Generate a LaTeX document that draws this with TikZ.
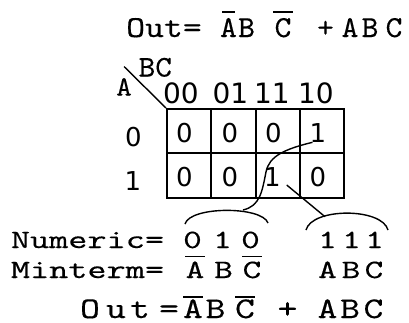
\documentclass[tikz,border=0pt]{standalone}
\usepackage{fontspec}
\usepackage{graphicx}
\newfontfamily\digfont{DejaVu Sans}
\newfontfamily\courf{lmmono10-regular.otf}[FakeBold=0.3]
\newcommand\bigtt{\courf\fontsize{30.5}{32}\selectfont}
\newcommand\smtt{\courf\fontsize{26.5}{28}\selectfont}
\newcommand\bottt{\courf\fontsize{30}{32}\selectfont}
\newcommand\hxs[1]{\scalebox{1.05}[1]{#1}}
\newcommand\sxs[1]{\scalebox{1.34}[1]{#1}}
\newcommand\bxs[1]{\scalebox{1.26}[1]{#1}}
\begin{document}
\begin{tikzpicture}[x=1pt,y=-1pt,
  txt/.style={inner sep=0pt, outer sep=0pt, anchor=base, text depth=0pt},
  topt/.style={txt, font=\bigtt},
  rowt/.style={txt, font=\smtt},
  bott/.style={txt, font=\bottt},
  hdr/.style={txt, font=\digfont\fontsize{28}{30}\selectfont},
  val/.style={txt, font=\digfont\fontsize{26}{28}\selectfont},
  gridline/.style={line width=2pt},
  thin/.style={line width=1.4pt},
  bar/.style={line width=1.4pt}]
\useasboundingbox (0,0) rectangle (409,322);
% top equation
\node[topt] (t0) at (164,37) {\scalebox{1.18}[1]{Out=}};
\node[topt] (t1) at (228.5,37) {\hxs{A}};
\node[topt] (t2) at (246.5,37) {\hxs{B}};
\node[topt] (t3) at (283,37) {\hxs{C}};
\node[topt] (t4) at (325.5,37) {\hxs{+}};
\node[topt] (t5) at (350,37) {\hxs{A}};
\node[topt] (t6) at (370,37) {\hxs{B}};
\node[topt] (t7) at (394,37) {\hxs{C}};
\draw[bar] (222,12) -- (235,12);
\draw[bar] (273,12) -- (293,12);
% map labels
\node[txt, font=\courf\fontsize{28}{30}\selectfont] (la) at (124,95.5) {\scalebox{1.06}[1]{A}};
\node[txt, font=\courf\fontsize{30}{32}\selectfont] (lbc) at (155.3,76.5) {\scalebox{1.06}[1]{BC}};
\node[hdr] (h0) at (181,103) {00};
\node[hdr] (h1) at (230.5,103) {01};
\node[hdr] (h2) at (272,103) {11};
\node[hdr] (h3) at (316,103) {10};
\node[val] (r0) at (133.5,146.5) {0};
\node[val] (r1) at (133,190) {1};
% grid
\node[draw, gridline, minimum width=177pt, minimum height=88.5pt, inner sep=0pt, anchor=north west] (map) at (166,108) {};
\draw[gridline] (166,152.5) -- (343,152.5);
\draw[gridline] (210.5,108) -- (210.5,196.5);
\draw[gridline] (255.5,108) -- (255.5,196.5);
\draw[gridline] (299.5,108) -- (299.5,196.5);
\coordinate (dtop) at (124,66.5);
\draw[thin] (dtop) -- (map.north west);
% values
\node[val] (v00) at (184.5,142.5) {0};
\node[val] (v01) at (230,142.5) {0};
\node[val] (v02) at (273.5,142.5) {0};
\node[val] (v03) at (318,142.5) {1};
\node[val] (v10) at (184.5,186.5) {0};
\node[val] (v11) at (230,186.5) {0};
\node[val] (v12) at (272.5,186.5) {1};
\node[val] (v13) at (318,186.5) {0};
% brackets
\coordinate (b1l) at (185,224);
\coordinate (b1r) at (268,223);
\coordinate (b1j) at (243,210);
\coordinate (b2l) at (306,230);
\coordinate (b2r) at (388,230);
\coordinate (b2j) at (325,216.7);
\coordinate (s1) at (312.5,142.3);
\coordinate (s2) at (286.7,185);
\draw[thin] (b1l) .. controls (190,206) and (262,206) .. (b1r);
\draw[thin] (b2l) .. controls (312,207.5) and (382,207.5) .. (b2r);
\draw[thin] (s1) .. controls (285,149) and (269,156) .. (266,172) .. controls (262,192) and (260,206) .. (b1j);
\draw[thin] (s2) -- (b2j);
% numeric row
\node[rowt] (n0) at (87.5,248) {\scalebox{1.376}[1]{Numeric=}};
\node[rowt] (n1) at (192.5,248) {\sxs{0}};
\node[rowt] (n2) at (222.5,248) {\sxs{1}};
\node[rowt] (n3) at (250.5,248) {\sxs{0}};
\node[rowt] (n4) at (327.5,248) {\sxs{1}};
\node[rowt] (n5) at (351.5,248) {\sxs{1}};
\node[rowt] (n6) at (374.5,248) {\sxs{1}};
% minterm row
\node[rowt] (m0) at (87.5,278) {\scalebox{1.376}[1]{Minterm=}};
\node[rowt] (m1) at (195,278) {\sxs{A}};
\node[rowt] (m2) at (223.5,278) {\sxs{B}};
\node[rowt] (m3) at (252,278) {\sxs{C}};
\node[rowt] (m4) at (327.5,278) {\sxs{A}};
\node[rowt] (m5) at (351,278) {\sxs{B}};
\node[rowt] (m6) at (374,278) {\sxs{C}};
\draw[bar] (185,256.5) -- (205,256.5);
\draw[bar] (242,256.5) -- (262,256.5);
% bottom equation
\node[bott] (o1) at (90,318) {\bxs{O}};
\node[bott] (o2) at (116,318) {\bxs{u}};
\node[bott] (o3) at (140,318) {\bxs{t}};
\node[bott] (o4) at (169,318) {\bxs{=}};
\node[bott] (e1) at (193,318) {\bxs{A}};
\node[bott] (e2) at (215.5,318) {\bxs{B}};
\node[bott] (e3) at (245,318) {\bxs{C}};
\node[bott] (e4) at (287.5,318) {\bxs{+}};
\node[bott] (e5) at (327.5,318) {\bxs{A}};
\node[bott] (e6) at (350,318) {\bxs{B}};
\node[bott] (e7) at (373.5,318) {\bxs{C}};
\draw[bar] (183,297) -- (203,297);
\draw[bar] (235,297) -- (255,297);
\end{tikzpicture}
\end{document}
